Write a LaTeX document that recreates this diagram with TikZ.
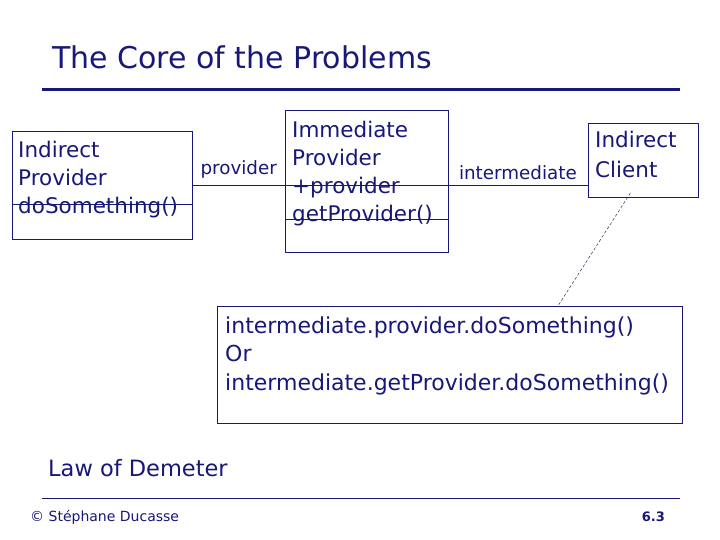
\documentclass[tikz,border=0pt]{standalone}
\usepackage{fontspec}
\setmainfont{DejaVu Sans}
\definecolor{navy}{RGB}{24,24,120}
\begin{document}
\begin{tikzpicture}[x=1pt, y=-1pt,
    box/.style = {draw=navy, line width=0.9pt, anchor=north west, inner sep=0pt},
    txt/.style = {text=navy, anchor=base west, align=left, inner sep=0pt},
    role/.style = {text=navy, anchor=base east, inner sep=0pt, font=\fontsize{18.3}{20}\selectfont},
    rule/.style = {draw=navy}]
  \useasboundingbox[fill=white] (0,0) rectangle (720,540);

  % title
  \node[txt, font=\fontsize{30}{36}\selectfont] (title) at (52,69) {The Core of the Problems};
  \coordinate (tl) at (42,90);
  \coordinate (tr) at (680,90);
  \draw[rule, line width=3pt] (tl) -- (tr);

  % classes (base = last line)
  \node[box, minimum width=180, minimum height=108] (ip) at (12,131) {};
  \node[txt, font=\fontsize{21.5}{28}\selectfont] (iptxt) at (18,214)
    {Indirect\\Provider\\doSomething()};
  \draw[rule] ([yshift=-19pt]ip.west) -- ([yshift=-19pt]ip.east);

  \node[box, minimum width=163, minimum height=142] (imp) at (285,110) {};
  \node[txt, font=\fontsize{21.5}{28.3}\selectfont] (imptxt) at (292,222)
    {Immediate\\Provider\\+provider\\getProvider()};
  \draw[rule] ([yshift=-38pt]imp.west) -- ([yshift=-38pt]imp.east);

  \node[box, minimum width=110, minimum height=74] (ic) at (588,123) {};
  \node[txt, font=\fontsize{21.5}{30}\selectfont] (ictxt) at (595,178)
    {Indirect\\Client};

  % associations
  \draw[rule] (ip.east) -- (ip.east -| ic.west);
  \node[role] (prov) at (277,175) {provider};
  \node[role] (inter) at (577,180) {intermediate};

  % note
  \node[box, minimum width=465, minimum height=117] (note) at (217,306) {};
  \node[txt, font=\fontsize{22}{28.5}\selectfont] (notetxt) at (225,390)
    {intermediate.provider.doSomething()\\Or\\intermediate.getProvider.doSomething()};
  \draw[navy!60!black, thin, dash pattern=on 3pt off 2pt]
    ([shift={(-13,-5)}]ic.south) -- ([xshift=108pt]note.north);

  % footer
  \node[txt, font=\fontsize{22.5}{28}\selectfont] (law) at (48,476) {Law of Demeter};
  \coordinate (fl) at (42,498);
  \coordinate (fr) at (680,498);
  \draw[rule] (fl) -- (fr);
  \node[txt, font=\fontsize{14}{16}\selectfont] (copy) at (30,521) {\textcopyright\ Stéphane Ducasse};
  \node[txt, anchor=base east, font=\bfseries\fontsize{13}{15}\selectfont] (page) at (665,521) {6.3};
\end{tikzpicture}
\end{document}
